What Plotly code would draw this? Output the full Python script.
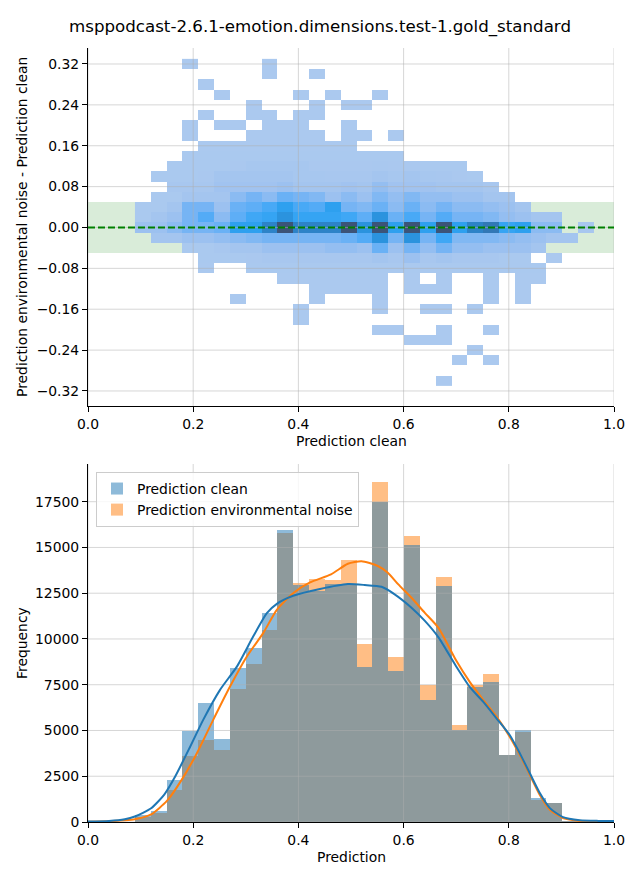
import numpy as np
import plotly.graph_objects as go

TITLE = "msppodcast-2.6.1-emotion.dimensions.test-1.gold_standard"

# shared x binning (heatmap columns and histogram bars)
BIN_START = 0.0893
BIN_WIDTH = 0.03009

# ---------------- top: 2-D histogram (rows from top y=0.32 to bottom y=-0.30) ----------
heat_rows_y = [0.32, 0.30, 0.28, 0.26, 0.24, 0.22, 0.20, 0.18, 0.16, 0.14, 0.12, 0.10,
               0.08, 0.06, 0.04, 0.02, 0.00, -0.02, -0.04, -0.06, -0.08, -0.10, -0.12,
               -0.14, -0.16, -0.18, -0.20, -0.22, -0.24, -0.26, -0.28, -0.30]
heat_counts = [
    [0,0,0,5,0, 0,0,0,5,0, 0,0,0,0,0, 0,0,0,0,0, 0,0,0,0,0, 0,0,0,0],
    [0,0,0,0,0, 0,0,0,5,0, 0,5,0,0,0, 0,0,0,0,0, 0,0,0,0,0, 0,0,0,0],
    [0,0,0,0,5, 0,0,0,0,0, 0,0,0,0,0, 0,0,0,0,0, 0,0,0,0,0, 0,0,0,0],
    [0,0,0,0,0, 5,0,0,0,0, 5,0,5,0,0, 5,0,0,0,0, 0,0,0,0,0, 0,0,0,0],
    [0,0,0,0,0, 0,0,5,0,0, 0,5,0,5,5, 0,0,0,0,0, 0,0,0,0,0, 0,0,0,0],
    [0,0,0,0,5, 0,0,5,5,0, 5,5,0,0,0, 0,0,0,0,0, 0,0,0,0,0, 0,0,0,0],
    [0,0,0,5,0, 5,5,0,5,5, 5,0,0,5,0, 0,0,0,0,0, 0,0,0,0,0, 0,0,0,0],
    [0,0,0,5,0, 0,0,5,5,5, 5,5,0,5,5, 0,5,0,0,0, 0,0,0,0,0, 0,0,0,0],
    [0,0,0,0,15, 15,15,15,15,15, 15,15,15,15,0, 0,0,0,0,0, 0,0,0,0,0, 0,0,0,0],
    [0,0,0,30,30, 30,30,40,40,40, 30,30,30,30,30, 30,30,0,0,0, 0,0,0,0,0, 0,0,0,0],
    [0,0,30,30,30, 30,60,210,210,210, 210,60,60,60,60, 100,60,60,30,30, 30,0,0,0,0, 0,0,0,0],
    [0,30,30,30,60, 350,350,350,350,350, 200,200,150,150,150, 350,200,350,200,140, 60,30,0,0,0, 0,0,0,0],
    [0,0,140,140,140, 490,490,490,490,700, 350,350,350,490,350, 1050,490,490,490,350, 350,350,140,0,0, 0,0,0,0],
    [0,30,30,350,350, 350,1400,2100,1400,2450, 2100,1750,700,1400,700, 1750,1050,1750,1050,1050, 700,700,350,350,0, 0,0,0,0],
    [30,30,350,2100,2100, 700,2450,2800,3500,4550, 3500,3150,4550,2100,1750, 2450,1400,2450,1400,2100, 1400,1400,1050,700,350, 0,0,0,0],
    [30,350,700,2100,3150, 1400,2800,3850,4200,4900, 4200,4200,4200,3850,2800, 4900,2450,3500,2100,3150, 2100,2100,1750,1050,700, 350,350,0,0],
    [700,700,1400,2100,2100, 2450,4550,4550,5250,5950, 5250,5250,5250,5950,4900, 5950,4550,5950,4550,5950, 4550,5250,5400,4200,4550, 1400,1400,0,140],
    [0,350,350,700,700, 1050,1400,1750,2100,2100, 2100,2100,2100,2450,3150, 4900,2100,4900,2100,3850, 1750,1750,1750,1400,1050, 700,350,350,0],
    [0,0,0,30,30, 140,350,350,700,700, 700,700,1050,1050,700, 2450,700,2100,1050,2100, 1050,1050,700,700,700, 350,0,0,0],
    [0,0,0,0,30, 30,30,60,140,140, 140,140,140,140,140, 350,140,700,140,350, 140,140,140,30,30, 0,5,0,0],
    [0,0,0,0,5, 0,0,30,30,30, 30,30,30,30,30, 30,30,30,30,30, 30,30,30,30,30, 30,0,0,0],
    [0,0,0,0,0, 0,0,0,0,10, 10,10,10,10,10, 10,0,10,0,10, 0,0,10,0,10, 10,0,0,0],
    [0,0,0,0,0, 0,0,0,0,0, 0,5,5,5,5, 5,0,5,5,5, 0,0,5,0,5, 0,0,0,0],
    [0,0,0,0,0, 0,5,0,0,0, 0,5,0,0,0, 5,0,0,0,0, 0,0,5,0,5, 0,0,0,0],
    [0,0,0,0,0, 0,0,0,0,0, 5,0,0,0,0, 5,0,0,5,5, 0,5,0,0,0, 0,0,0,0],
    [0,0,0,0,0, 0,0,0,0,0, 5,0,0,0,0, 0,0,0,0,0, 0,0,0,0,0, 0,0,0,0],
    [0,0,0,0,0, 0,0,0,0,0, 0,0,0,0,0, 5,5,0,0,5, 0,0,5,0,0, 0,0,0,0],
    [0,0,0,0,0, 0,0,0,0,0, 0,0,0,0,0, 0,0,5,5,5, 0,0,0,0,0, 0,0,0,0],
    [0,0,0,0,0, 0,0,0,0,0, 0,0,0,0,0, 0,0,0,0,0, 0,5,0,0,0, 0,0,0,0],
    [0,0,0,0,0, 0,0,0,0,0, 0,0,0,0,0, 0,0,0,0,0, 5,0,5,0,0, 0,0,0,0],
    [0,0,0,0,0, 0,0,0,0,0, 0,0,0,0,0, 0,0,0,0,0, 0,0,0,0,0, 0,0,0,0],
    [0,0,0,0,0, 0,0,0,0,0, 0,0,0,0,0, 0,0,0,0,5, 0,0,0,0,0, 0,0,0,0],
]

# ---------------- bottom: 1-D histograms + KDE ----------------
hist_clean = [370, 590, 2270, 4990, 6480, 4540, 8410, 9500, 11440, 15950, 12970, 12640,
              13000, 12950, 8450, 17490, 8230, 15140, 6650, 12900, 5020, 7370, 7630, 3680,
              5050, 1320, 1050, 25, 12]
hist_noise = [270, 500, 1730, 3630, 4500, 3960, 7260, 8630, 10480, 15790, 13050, 13290,
              13230, 14290, 9750, 18560, 8990, 15630, 7470, 13390, 5290, 7460, 8100, 3650,
              4910, 1175, 1040, 20, 10]

kde_x_clean = [0.0, 0.04, 0.07, 0.089, 0.12, 0.145, 0.166, 0.194, 0.219, 0.251, 0.283,
               0.314, 0.340, 0.359, 0.39, 0.441, 0.494, 0.526, 0.558, 0.583, 0.615, 0.64,
               0.666, 0.70, 0.726, 0.752, 0.777, 0.802, 0.821, 0.84, 0.859, 0.878, 0.903,
               0.935, 0.97, 1.0]
kde_clean = [30, 60, 150, 300, 750, 1500, 2500, 4100, 5580, 7220, 8490,
             10130, 11410, 11920, 12360, 12730, 13000, 12950, 12850, 12440, 11710, 11000,
             10100, 8500, 7370, 6550, 5650, 4740, 3750, 2660, 1580, 760, 270,
             100, 60, 50]
kde_x_noise = [0.0, 0.04, 0.07, 0.089, 0.12, 0.15, 0.178, 0.207, 0.238, 0.27, 0.302, 0.333,
               0.359, 0.39, 0.422, 0.462, 0.494, 0.52, 0.55, 0.57, 0.59, 0.615,
               0.64, 0.666, 0.70, 0.726, 0.752, 0.777, 0.802, 0.821, 0.84, 0.859, 0.878,
               0.903, 0.935, 0.97, 1.0]
kde_noise = [20, 40, 90, 150, 420, 1150, 2300, 3760, 5580, 7400, 9040, 10320,
             11590, 12500, 13090, 13530, 14110, 14250, 14000, 13620, 12980, 12250,
             11440, 10620, 8820, 7640, 6650, 5740, 4650, 3660, 2570, 1480, 670,
             220, 60, 30, 20]

# ticks
top_xticks = [0.0, 0.2, 0.4, 0.6, 0.8, 1.0]
top_yticks = [-0.32, -0.24, -0.16, -0.08, 0.0, 0.08, 0.16, 0.24, 0.32]
bot_yticks = [0, 2500, 5000, 7500, 10000, 12500, 15000, 17500]

TOP_YRANGE = [-0.3494, 0.3513]
BOT_YRANGE = [0, 19560]

FONT = "DejaVu Sans"
FS = 13.9
GRID = "rgba(176,176,176,0.5)"
C_CLEAN = "#1f77b4"
C_NOISE = "#ff7f0e"

n_bins = len(hist_clean)
x_edges = BIN_START + BIN_WIDTH * np.arange(n_bins + 1)
x_centers = BIN_START + BIN_WIDTH * (np.arange(n_bins) + 0.5)

rows_asc = heat_rows_y[::-1]
z = [[(v if v > 0 else None) for v in row] for row in heat_counts[::-1]]
y_edges = [r - 0.01 for r in rows_asc] + [rows_asc[-1] + 0.01]

colorscale = [
    [0.0, "#abc9ef"], [0.118, "#9cc1f0"], [0.235, "#8bbbf2"], [0.353, "#76b4f4"],
    [0.47, "#5eaef6"], [0.588, "#48a9f6"], [0.706, "#35a4f3"], [0.765, "#2ea0ef"],
    [0.824, "#2b93de"], [0.882, "#2d83c8"], [0.941, "#376a9f"], [1.0, "#3c5478"],
]

fig = go.Figure()

fig.add_trace(go.Heatmap(
    x=x_edges, y=y_edges, z=z, colorscale=colorscale, showscale=False,
    zmin=5, zmax=5950, hoverinfo="skip", xaxis="x", yaxis="y"))


def grid_trace(xt, yt, xr, yr, xa, ya):
    gx, gy = [], []
    for v in xt:
        gx += [v, v, None]
        gy += [yr[0], yr[1], None]
    for v in yt:
        gx += [xr[0], xr[1], None]
        gy += [v, v, None]
    return go.Scatter(x=gx, y=gy, mode="lines", line=dict(color=GRID, width=1),
                      hoverinfo="skip", showlegend=False, xaxis=xa, yaxis=ya)


fig.add_trace(grid_trace(top_xticks, top_yticks, [0, 1], TOP_YRANGE, "x", "y"))
fig.add_trace(go.Scatter(x=[0, 1], y=[0, 0], mode="lines",
                         line=dict(color="green", width=2, dash="7px,3px"),
                         hoverinfo="skip", showlegend=False, xaxis="x", yaxis="y"))

# bottom histograms: noise drawn first, clean over it
fig.add_trace(go.Bar(x=x_centers, y=hist_noise, width=BIN_WIDTH, name="Prediction environmental noise",
                     marker=dict(color=C_NOISE, line=dict(width=0)), opacity=0.5,
                     legendrank=2, xaxis="x2", yaxis="y2", hoverinfo="skip"))
fig.add_trace(go.Bar(x=x_centers, y=hist_clean, width=BIN_WIDTH, name="Prediction clean",
                     marker=dict(color=C_CLEAN, line=dict(width=0)), opacity=0.5,
                     legendrank=1, xaxis="x2", yaxis="y2", hoverinfo="skip"))
fig.add_trace(grid_trace(top_xticks, bot_yticks, [0, 1], BOT_YRANGE, "x2", "y2"))
fig.add_trace(go.Scatter(x=kde_x_noise, y=kde_noise, mode="lines",
                         line=dict(color=C_NOISE, width=2, shape="spline", smoothing=0.6),
                         showlegend=False, hoverinfo="skip", xaxis="x2", yaxis="y2"))
fig.add_trace(go.Scatter(x=kde_x_clean, y=kde_clean, mode="lines",
                         line=dict(color=C_CLEAN, width=2, shape="spline", smoothing=0.6),
                         showlegend=False, hoverinfo="skip", xaxis="x2", yaxis="y2"))

W, H = 640, 880
L_PX, R_PX = 88, 614
TOP_T, TOP_B = 48, 406
BOT_T, BOT_B = 464, 822
xdom = [L_PX / W, R_PX / W]

axis_common = dict(showgrid=False, zeroline=False, showline=True, linecolor="black",
                   linewidth=1, ticks="outside", ticklen=5, tickwidth=1, tickcolor="black",
                   tickfont=dict(family=FONT, size=FS, color="black"), automargin=False)


def fmt(v, nd):
    s = f"{v:.{nd}f}"
    return s.replace("-", "\u2212")


fig.update_layout(
    width=W, height=H, margin=dict(l=0, r=0, t=0, b=0),
    paper_bgcolor="white", plot_bgcolor="white",
    font=dict(family=FONT, size=FS, color="black"),
    barmode="overlay", bargap=0,
    xaxis=dict(domain=xdom, anchor="y", range=[0, 1], tickvals=top_xticks,
               ticktext=[fmt(v, 1) for v in top_xticks], **axis_common),
    yaxis=dict(domain=[1 - TOP_B / H, 1 - TOP_T / H], anchor="x", range=TOP_YRANGE,
               tickvals=top_yticks, ticktext=[fmt(v, 2) for v in top_yticks], **axis_common),
    xaxis2=dict(domain=xdom, anchor="y2", range=[0, 1], tickvals=top_xticks,
                ticktext=[fmt(v, 1) for v in top_xticks], **axis_common),
    yaxis2=dict(domain=[1 - BOT_B / H, 1 - BOT_T / H], anchor="x2", range=BOT_YRANGE,
                tickvals=bot_yticks, ticktext=[str(v) for v in bot_yticks], **axis_common),
    showlegend=True,
    legend=dict(x=96 / W, y=1 - 472 / H, xanchor="left", yanchor="top",
                bgcolor="rgba(255,255,255,0.8)", bordercolor="#cccccc", borderwidth=1,
                font=dict(family=FONT, size=FS, color="black"), traceorder="normal"),
    shapes=[dict(type="rect", xref="x", yref="y", x0=0, x1=1, y0=-0.05, y1=0.05,
                 fillcolor="rgba(0,128,0,0.15)", line=dict(width=0), layer="below")],
    annotations=[
        dict(text=TITLE, x=0.5, y=1 - 27 / H, xref="paper", yref="paper", showarrow=False,
             font=dict(family=FONT, size=16.67, color="black"), xanchor="center", yanchor="middle"),
        dict(text="Prediction clean", x=(L_PX + R_PX) / 2 / W, y=1 - 441 / H, xref="paper",
             yref="paper", showarrow=False, xanchor="center", yanchor="middle"),
        dict(text="Prediction environmental noise - Prediction clean", x=22 / W,
             y=1 - (TOP_T + TOP_B) / 2 / H, xref="paper", yref="paper", showarrow=False,
             textangle=-90, xanchor="center", yanchor="middle"),
        dict(text="Prediction", x=(L_PX + R_PX) / 2 / W, y=1 - 857 / H, xref="paper",
             yref="paper", showarrow=False, xanchor="center", yanchor="middle"),
        dict(text="Frequency", x=22 / W, y=1 - (BOT_T + BOT_B) / 2 / H, xref="paper",
             yref="paper", showarrow=False, textangle=-90, xanchor="center", yanchor="middle"),
    ],
)

fig.write_html("out.html", config={"displayModeBar": False},
               post_script="document.body.style.margin='0';document.body.style.padding='0';")
